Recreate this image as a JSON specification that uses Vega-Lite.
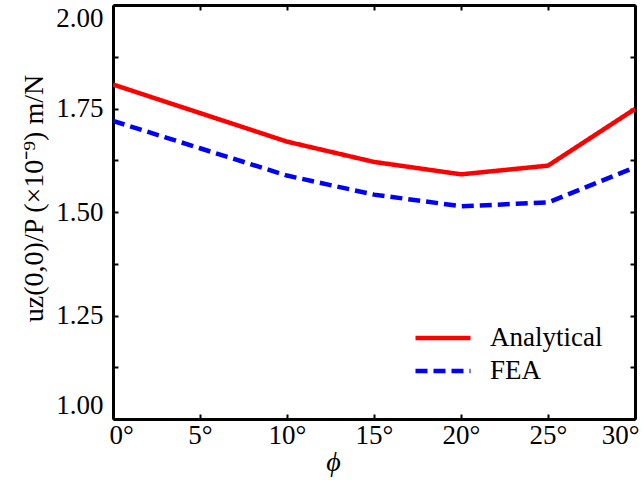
{
  "$schema": "https://vega.github.io/schema/vega-lite/v6.json",
  "autosize": {"type": "none"},
  "padding": {"left": 113, "top": 5, "right": 7, "bottom": 61},
  "width": 522,
  "height": 414,
  "background": "white",
  "config": {
    "view": {"stroke": null},
    "font": "Liberation Serif",
    "axis": {
      "grid": false,
      "domainColor": "black",
      "domainWidth": 3,
      "tickColor": "black",
      "tickWidth": 2,
      "tickSize": -5,
      "labelFont": "Liberation Serif",
      "labelFontSize": 27,
      "labelColor": "black",
      "titleFont": "Liberation Serif",
      "titleFontSize": 28,
      "titleFontWeight": "normal",
      "titleColor": "black",
      "labelOverlap": false
    },
    "legend": {
      "orient": "none",
      "legendX": 314,
      "legendY": 317,
      "title": null,
      "padding": 0,
      "labelFont": "Liberation Serif",
      "labelFontSize": 27,
      "labelColor": "black",
      "symbolType": "M-2,0H2",
      "symbolSize": 756,
      "symbolStrokeWidth": 4.5,
      "labelOffset": 31,
      "rowPadding": 4
    }
  },
  "data": {
    "values": [
      {"series": "Analytical", "phi": 0, "value": 1.808},
      {"series": "Analytical", "phi": 5, "value": 1.739},
      {"series": "Analytical", "phi": 10, "value": 1.670},
      {"series": "Analytical", "phi": 15, "value": 1.621},
      {"series": "Analytical", "phi": 20, "value": 1.591},
      {"series": "Analytical", "phi": 25, "value": 1.612},
      {"series": "Analytical", "phi": 30, "value": 1.749},
      {"series": "FEA", "phi": 0, "value": 1.720},
      {"series": "FEA", "phi": 5, "value": 1.654},
      {"series": "FEA", "phi": 10, "value": 1.588},
      {"series": "FEA", "phi": 15, "value": 1.542},
      {"series": "FEA", "phi": 20, "value": 1.514},
      {"series": "FEA", "phi": 25, "value": 1.523},
      {"series": "FEA", "phi": 30, "value": 1.608}
    ]
  },
  "resolve": {"axis": {"x": "independent", "y": "independent"}},
  "layer": [
    {
      "mark": {"type": "line", "strokeWidth": 4.5, "clip": true},
      "encoding": {
        "x": {
          "field": "phi", "type": "quantitative",
          "scale": {"domain": [0, 30], "nice": false, "zero": false},
          "axis": {
            "orient": "bottom",
            "values": [0, 5, 10, 15, 20, 25, 30],
            "labelExpr": "datum.value + '°'",
            "labelPadding": 8,
            "labelFlush": true,
            "labelFlushOffset": 4,
            "title": "ϕ",
            "titleFontStyle": "italic",
            "titleX": 220,
            "titleY": 51,
            "titleAlign": "center",
            "titleBaseline": "alphabetic"
          }
        },
        "y": {
          "field": "value", "type": "quantitative",
          "scale": {"domain": [1, 2], "nice": false, "zero": false},
          "axis": {
            "orient": "left",
            "values": [1, 1.125, 1.25, 1.375, 1.5, 1.625, 1.75, 1.875, 2],
            "labelExpr": "(datum.value * 4) % 1 == 0 ? format(datum.value, '.2f') : ''",
            "labelPadding": 15,
            "labelFlush": true,
            "title": "uz(0,0)/P (×10⁻⁹) m/N",
            "titleX": -71,
            "titleY": 193,
            "titleAngle": -90,
            "titleAlign": "center",
            "titleBaseline": "alphabetic"
          }
        },
        "color": {
          "field": "series", "type": "nominal",
          "scale": {"domain": ["Analytical", "FEA"], "range": ["#ff0000", "#0000ff"]}
        },
        "strokeDash": {
          "field": "series", "type": "nominal",
          "scale": {"domain": ["Analytical", "FEA"], "range": [[1, 0], [12, 6]]}
        }
      }
    },
    {
      "mark": {"type": "line", "opacity": 0},
      "encoding": {
        "x": {
          "field": "phi", "type": "quantitative",
          "axis": {
            "orient": "top",
            "values": [0, 5, 10, 15, 20, 25, 30],
            "labels": false,
            "title": null
          }
        },
        "y": {
          "field": "value", "type": "quantitative",
          "axis": {
            "orient": "right",
            "values": [1, 1.125, 1.25, 1.375, 1.5, 1.625, 1.75, 1.875, 2],
            "labels": false,
            "title": null
          }
        },
        "detail": {"field": "series"}
      }
    }
  ]
}
